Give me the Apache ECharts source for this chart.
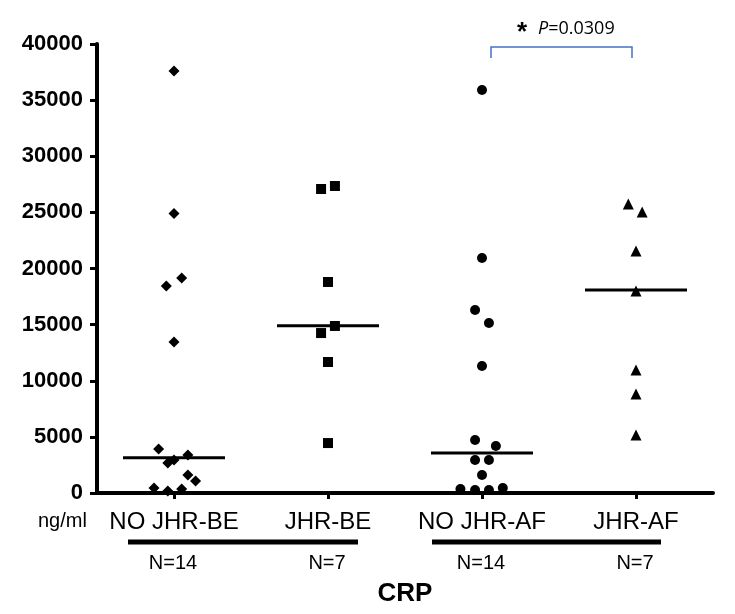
<!DOCTYPE html>
<html>
<head>
<meta charset="utf-8">
<script src="https://cdn.jsdelivr.net/npm/echarts@6/dist/echarts.min.js"></script>
<style>html,body{margin:0;padding:0;background:#fff}#c{width:735px;height:614px}</style>
</head>
<body>
<div id="c"></div>
<script>
// ---- data ----
const categories = ['NO JHR-BE', 'JHR-BE', 'NO JHR-AF', 'JHR-AF'];
const groupN = ['N=14', 'N=7', 'N=14', 'N=7'];
const yTicks = [0, 5000, 10000, 15000, 20000, 25000, 30000, 35000, 40000];

const noJhrBeValues = [37600, 24900, 19150, 18440, 13450, 3920, 3385, 2940, 2670, 1600, 1070, 445, 180, 360];
const noJhrBeJitter = [0, 0, 0.05, -0.05, 0, -0.1, 0.09, 0, -0.04, 0.09, 0.14, -0.13, -0.04, 0.05];

const jhrBeValues = [27080, 27350, 18800, 14880, 14250, 11670, 4450];
const jhrBeJitter = [-0.045, 0.045, 0, 0.045, -0.045, 0, 0];

const noJhrAfValues = [35900, 20940, 16300, 15150, 11310, 4720, 4190, 2940, 2940, 1600, 360, 270, 270, 450];
const noJhrAfJitter = [0, 0, -0.045, 0.045, 0, -0.045, 0.09, -0.045, 0.045, 0, -0.14, -0.045, 0.045, 0.135];

const jhrAfValues = [25750, 25030, 21560, 18000, 10960, 8820, 5170];
const jhrAfJitter = [-0.05, 0.04, 0, 0, 0, 0, 0];

const medians = [3150, 14900, 3560, 18080];
const pText = 'P=0.0309';

// ---- build ----
function pts(groupIdx, vals, jit) {
  return vals.map((v, i) => [groupIdx + 1 + jit[i], v]);
}
const FONT = '"Liberation Sans", Arial, sans-serif';

const chart = echarts.init(document.getElementById('c'), null, {renderer: 'canvas'});
const gridLeft = 97, gridRight = 22, gridTop = 44, gridBottom = 121;

function scatter(name, data, symbol, size) {
  return {
    name, type: 'scatter', xAxisIndex: 1, yAxisIndex: 0,
    data, symbol, symbolSize: size,
    itemStyle: {color: '#000', opacity: 1}, z: 3, silent: true
  };
}

const option = {
  animation: false,
  backgroundColor: '#fff',
  grid: {left: gridLeft, right: gridRight, top: gridTop, bottom: gridBottom, containLabel: false},
  xAxis: [
    {
      type: 'category', data: categories, boundaryGap: true,
      axisLine: {show: true, lineStyle: {color: '#000', width: 4}},
      axisTick: {show: true, alignWithLabel: true, length: 6, lineStyle: {color: '#000', width: 3}},
      axisLabel: {color: '#000', fontFamily: FONT, fontSize: 24, margin: 17, interval: 0, hideOverlap: false},
      splitLine: {show: false}
    },
    {type: 'value', min: 0.5, max: 4.5, show: false}
  ],
  yAxis: {
    type: 'value', min: yTicks[0], max: yTicks[yTicks.length - 1], interval: yTicks[1] - yTicks[0],
    axisLine: {show: true, lineStyle: {color: '#000', width: 4}},
    axisTick: {show: true, length: 7, lineStyle: {color: '#000', width: 3}},
    axisLabel: {color: '#000', fontFamily: FONT, fontSize: 22, fontWeight: 'bold', margin: 14,
                formatter: function (v) { return String(v); }},
    splitLine: {show: false}
  },
  series: [
    scatter('NO JHR-BE', pts(0, noJhrBeValues, noJhrBeJitter), 'diamond', 11),
    scatter('JHR-BE', pts(1, jhrBeValues, jhrBeJitter), 'rect', 10),
    scatter('NO JHR-AF', pts(2, noJhrAfValues, noJhrAfJitter), 'circle', 10),
    scatter('JHR-AF', pts(3, jhrAfValues, jhrAfJitter), 'triangle', 11),
    {
      type: 'custom', xAxisIndex: 1, yAxisIndex: 0, silent: true, z: 2,
      data: medians.map((m, i) => [i + 1, m]),
      renderItem: function (params, api) {
        const p = api.coord([api.value(0), api.value(1)]);
        return {type: 'line', shape: {x1: p[0] - 51, y1: p[1], x2: p[0] + 51, y2: p[1]},
                style: {stroke: '#000', lineWidth: 3}};
      }
    }
  ],
  graphic: []
};
chart.setOption(option);

// annotations positioned from the axes
const g = [];
const xs = categories.map((c, i) => chart.convertToPixel({xAxisIndex: 1}, i + 1));
g.push({type: 'text', left: 38, top: 511, style: {text: 'ng/ml', font: '20px ' + FONT, fill: '#000'}});
g.push({type: 'rect', shape: {x: 128, y: 539.5, width: 230, height: 5}, style: {fill: '#000'}});
g.push({type: 'rect', shape: {x: 432, y: 539.5, width: 229, height: 5}, style: {fill: '#000'}});
groupN.forEach((t, i) => {
  g.push({type: 'text', x: xs[i] - 1, y: 563, style: {text: t, font: '20px ' + FONT, fill: '#000', textAlign: 'center', textVerticalAlign: 'middle'}});
});
g.push({type: 'text', x: 405, y: 594, style: {text: 'CRP', font: 'bold 26px ' + FONT, fill: '#000', textAlign: 'center', textVerticalAlign: 'middle'}});
g.push({type: 'polyline', shape: {points: [[491, 58], [491, 47], [632, 47], [632, 58]]}, style: {stroke: '#4472C4', lineWidth: 1.5, fill: null}});
g.push({type: 'text', x: 522, y: 33, style: {text: '*', font: 'bold 26px ' + FONT, fill: '#000', textAlign: 'center', textVerticalAlign: 'middle'}});
g.push({type: 'text', x: 538, y: 29, style: {
  text: '{i|' + pText.charAt(0) + '}{n|' + pText.slice(1) + '}',
  textVerticalAlign: 'middle', textAlign: 'left',
  rich: {i: {font: 'italic 18px "Open Sans", ' + FONT, fill: '#000'}, n: {font: '18px "Open Sans", ' + FONT, fill: '#000'}}
}});
chart.setOption({graphic: g});
</script>
</body>
</html>
